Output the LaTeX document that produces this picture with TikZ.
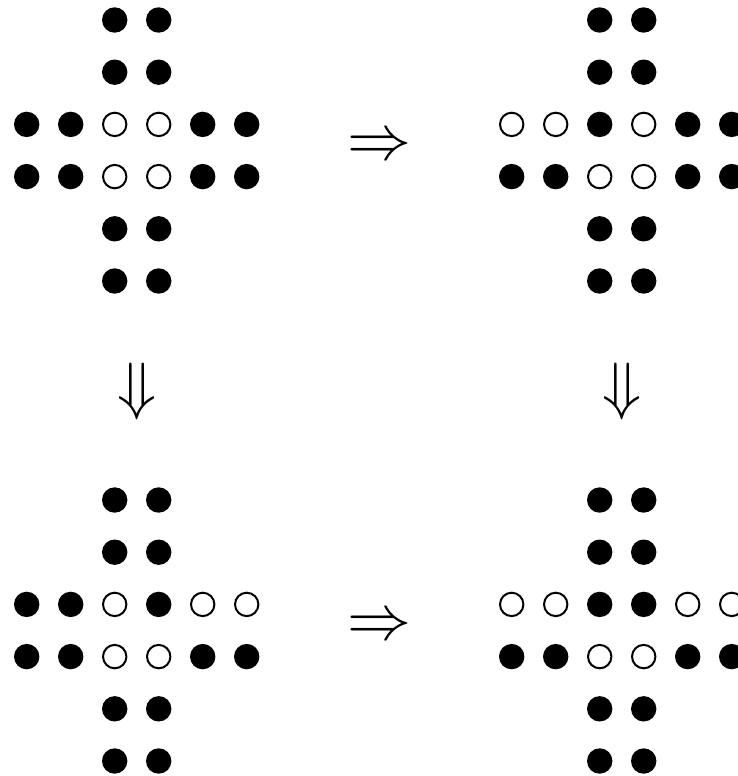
\documentclass[tikz,border=0pt]{standalone}
\usepackage{amsmath}
\tikzset{
  pegf/.style={circle, fill=black, draw=none, inner sep=0pt, minimum size=12.7pt},
  pego/.style={circle, fill=white, draw=black, line width=1pt, inner sep=0pt, minimum size=11.7pt},
  arrowsym/.style={inner sep=0pt, scale=3.2}
}
\newcommand\pegboard[5]{%
  \foreach \r in {0,1,4,5}{%
    \foreach \c in {2,3}{%
      \node[pegf] (#1-\r-\c) at ({#2+44*\c},{#3+52.2*\r}) {};
    }%
  }%
  \foreach \k [count=\c from 0] in {#4}{%
    \node[\k] (#1-2-\c) at ({#2+44*\c},{#3+52.2*2}) {};
  }%
  \foreach \k [count=\c from 0] in {#5}{%
    \node[\k] (#1-3-\c) at ({#2+44*\c},{#3+52.2*3}) {};
  }%
}
\begin{document}
\begin{tikzpicture}[x=0.5pt,y=-0.5pt]
  \useasboundingbox (0,0) rectangle (738,776);
  \pegboard{tl}{26.7}{20}{pegf,pegf,pego,pego,pegf,pegf}{pegf,pegf,pego,pego,pegf,pegf}
  \pegboard{tr}{511.7}{20}{pego,pego,pegf,pego,pegf,pegf}{pegf,pegf,pego,pego,pegf,pegf}
  \pegboard{bl}{26.7}{500}{pegf,pegf,pego,pegf,pego,pego}{pegf,pegf,pego,pego,pegf,pegf}
  \pegboard{br}{511.7}{500}{pego,pego,pegf,pegf,pego,pego}{pegf,pegf,pego,pego,pegf,pegf}
  \node[arrowsym] (ra1) at (379,148) {$\Rightarrow$};
  \node[arrowsym] (ra2) at (379,628) {$\Rightarrow$};
  \node[arrowsym] (da1) at (136.7,391) {$\Downarrow$};
  \node[arrowsym] (da2) at (621.7,391) {$\Downarrow$};
\end{tikzpicture}
\end{document}
